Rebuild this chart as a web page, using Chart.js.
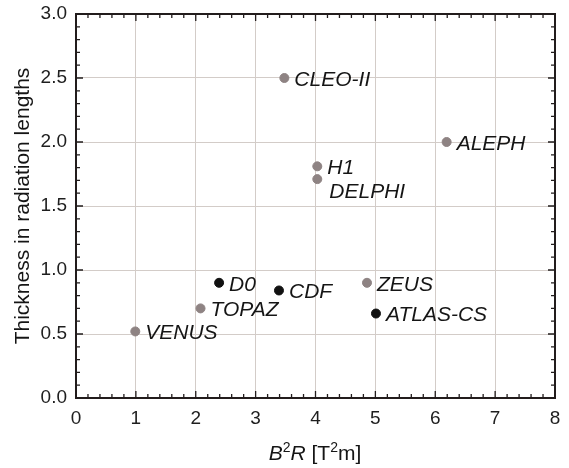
<!DOCTYPE html>
<html>
<head>
<meta charset="utf-8">
<script src="https://cdn.jsdelivr.net/npm/chart.js@4.4.0/dist/chart.umd.min.js"></script>
<style>
  html, body { margin: 0; padding: 0; background: #fff; }
  #wrap { width: 569px; height: 468px; }
</style>
</head>
<body>
<div id="wrap"><canvas id="thickness-chart" width="569" height="468"></canvas></div>
<script>
    // grey markers
    var greyNames = ['CLEO-II', 'ALEPH', 'H1', 'DELPHI', 'TOPAZ', 'VENUS', 'ZEUS'];
    var greyB2R = [3.48, 6.19, 4.03, 4.03, 2.08, 0.99, 4.86];
    var greyThick = [2.50, 2.00, 1.81, 1.71, 0.70, 0.52, 0.90];
    // black markers
    var blackNames = ['D0', 'CDF', 'ATLAS-CS'];
    var blackB2R = [2.39, 3.39, 5.01];
    var blackThick = [0.90, 0.84, 0.66];

    var xTicks = [0, 1, 2, 3, 4, 5, 6, 7, 8];
    var yTicks = [0.0, 0.5, 1.0, 1.5, 2.0, 2.5, 3.0];

    function toPoints(xs, ys) {
        return xs.map(function (x, i) { return { x: x, y: ys[i] }; });
    }

    var FONT = '"Liberation Sans", Arial, Helvetica, sans-serif';

    // labels beside points
    var labelPlugin = {
        id: 'pointLabels',
        afterDatasetsDraw: function (chart) {
            var ctx = chart.ctx;
            ctx.save();
            ctx.font = 'italic 21px ' + FONT;
            ctx.fillStyle = '#151515';
            ctx.textAlign = 'left';
            ctx.textBaseline = 'middle';
            chart.data.datasets.forEach(function (ds, di) {
                var meta = chart.getDatasetMeta(di);
                meta.data.forEach(function (pt, i) {
                    var name = ds.names[i];
                    var dx = 10, dy = 2;
                    if (name === 'DELPHI') { dx = 12; dy = 13; }
                    ctx.fillText(name, pt.x + dx, pt.y + dy);
                });
            });
            ctx.restore();
        }
    };

    // frame, inward ticks and x title
    var framePlugin = {
        id: 'frame',
        afterDraw: function (chart) {
            var ctx = chart.ctx;
            var a = chart.chartArea;
            var xs = chart.scales.x, ys = chart.scales.y;
            ctx.save();
            ctx.strokeStyle = '#221c1c';
            ctx.lineWidth = 2;
            ctx.strokeRect(a.left, a.top, a.right - a.left, a.bottom - a.top);
            ctx.lineWidth = 1.3;
            ctx.beginPath();
            var v, p, len;
            for (v = 0; v <= 40; v++) {
                p = xs.getPixelForValue(v / 5);
                len = (v % 5 === 0) ? 7 : 4;
                ctx.moveTo(p, a.bottom); ctx.lineTo(p, a.bottom - len);
                ctx.moveTo(p, a.top); ctx.lineTo(p, a.top + len);
            }
            for (v = 0; v <= 30; v++) {
                p = ys.getPixelForValue(v / 10);
                len = (v % 5 === 0) ? 7 : 4;
                ctx.moveTo(a.left, p); ctx.lineTo(a.left + len, p);
                ctx.moveTo(a.right, p); ctx.lineTo(a.right - len, p);
            }
            ctx.stroke();

            // x axis title: B^2 R [T^2 m]
            var parts = [
                { t: 'B', f: 'italic 21px ' + FONT, up: 0 },
                { t: '2', f: '14px ' + FONT, up: 8 },
                { t: 'R', f: 'italic 21px ' + FONT, up: 0 },
                { t: ' [T', f: '21px ' + FONT, up: 0 },
                { t: '2', f: '14px ' + FONT, up: 8 },
                { t: 'm]', f: '21px ' + FONT, up: 0 }
            ];
            var total = 0;
            parts.forEach(function (pt) { ctx.font = pt.f; pt.w = ctx.measureText(pt.t).width; total += pt.w; });
            var x = 315 - total / 2;
            var base = 460;
            ctx.fillStyle = '#151515';
            ctx.textBaseline = 'alphabetic';
            ctx.textAlign = 'left';
            parts.forEach(function (pt) {
                ctx.font = pt.f;
                ctx.fillText(pt.t, x, base - pt.up);
                x += pt.w;
            });
            ctx.restore();
        }
    };

    var gridColor = '#d3ccc8';
    var ctx = document.getElementById('thickness-chart').getContext('2d');
    new Chart(ctx, {
        type: 'scatter',
        data: {
            datasets: [{
                label: 'grey',
                names: greyNames,
                data: toPoints(greyB2R, greyThick),
                backgroundColor: '#8e8383',
                borderColor: '#8e8383',
                pointRadius: 4.5,
                pointHoverRadius: 4.5
            },
            {
                label: 'black',
                names: blackNames,
                data: toPoints(blackB2R, blackThick),
                backgroundColor: '#111111',
                borderColor: '#111111',
                pointRadius: 4.5,
                pointHoverRadius: 4.5
            }]
        },
        options: {
            responsive: false,
            animation: false,
            events: [],
            layout: {
                padding: { left: 0, right: 14, top: 14, bottom: 0 }
            },
            plugins: {
                legend: { display: false },
                tooltip: { enabled: false }
            },
            scales: {
                x: {
                    type: 'linear',
                    min: 0,
                    max: 8,
                    afterBuildTicks: function (scale) {
                        scale.ticks = xTicks.map(function (v) { return { value: v }; });
                    },
                    afterFit: function (scale) {
                        scale.height = 70;
                        scale.paddingLeft = 0;
                        scale.paddingRight = 0;
                    },
                    grid: { color: gridColor, lineWidth: 1, drawTicks: false },
                    border: { display: false },
                    ticks: {
                        padding: 9,
                        color: '#1e1e1e',
                        font: { family: FONT, size: 19 },
                        callback: function (v) { return String(v); }
                    }
                },
                y: {
                    type: 'linear',
                    min: 0,
                    max: 3,
                    afterBuildTicks: function (scale) {
                        scale.ticks = yTicks.map(function (v) { return { value: v }; });
                    },
                    afterFit: function (scale) {
                        scale.width = 76;
                        scale.paddingTop = 0;
                        scale.paddingBottom = 0;
                    },
                    grid: { color: gridColor, lineWidth: 1, drawTicks: false },
                    border: { display: false },
                    ticks: {
                        padding: 9,
                        color: '#1e1e1e',
                        font: { family: FONT, size: 19 },
                        callback: function (v) { return v.toFixed(1); }
                    },
                    title: {
                        display: true,
                        text: 'Thickness in radiation lengths',
                        color: '#151515',
                        font: { family: FONT, size: 21 },
                        padding: { top: 11, bottom: 0 }
                    }
                }
            }
        },
        plugins: [labelPlugin, framePlugin]
    });
</script>
</body>
</html>
